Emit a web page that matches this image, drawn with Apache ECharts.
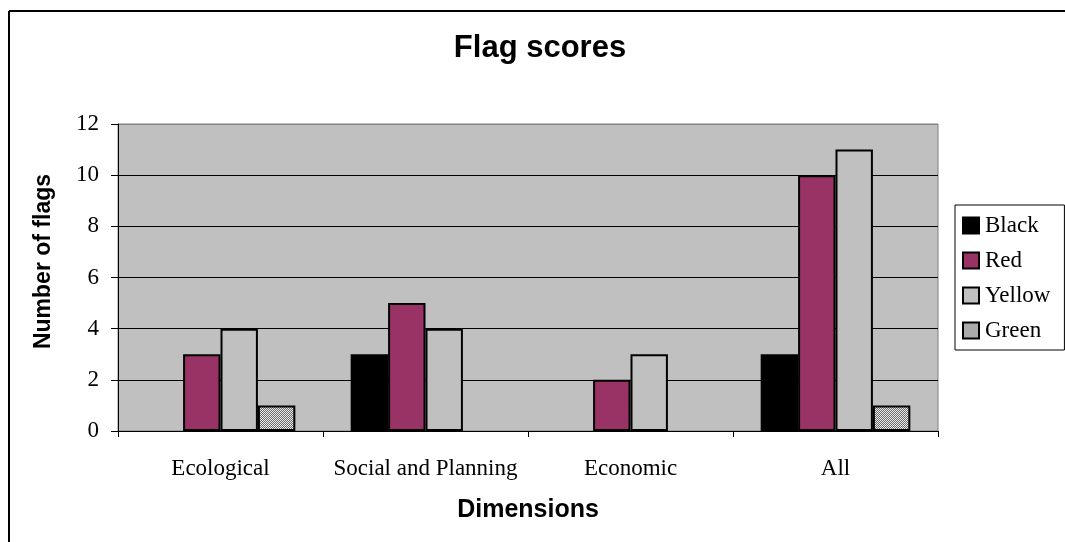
<!DOCTYPE html>
<html>
<head>
<meta charset="utf-8">
<script src="https://cdn.jsdelivr.net/npm/echarts@6/dist/echarts.min.js"></script>
<style>html,body{margin:0;padding:0;background:#fff}#c{width:1065px;height:542px}</style>
</head>
<body>
<div id="c"></div>
<script>
var categories = ['Ecological', 'Social and Planning', 'Economic', 'All'];
var seriesNames = ['Black', 'Red', 'Yellow', 'Green'];
var blackVals = [0, 3, 0, 3];
var redVals = [3, 5, 2, 10];
var yellowVals = [4, 4, 3, 11];
var greenVals = [1, 0, 0, 1];
var yTicks = [0, 2, 4, 6, 8, 10, 12];

// hatch pattern for green
var pc = document.createElement('canvas');
pc.width = 4; pc.height = 4;
var g = pc.getContext('2d');
g.fillStyle = '#ececec'; g.fillRect(0, 0, 4, 4);
g.fillStyle = '#6a6a6a';
for (var i = 0; i < 4; i++) { g.fillRect((3 - i), i, 1, 1); g.fillRect((3 - i + 2) % 4, i, 1, 1); }
var hatch = { image: pc, repeat: 'repeat' };

var colors = ['#000000', '#993366', '#c0c0c0', hatch];
var vals = [blackVals, redVals, yellowVals, greenVals];

var chart = echarts.init(document.getElementById('c'), null, { renderer: 'canvas' });
var serif = 'Liberation Serif, Times New Roman, serif';
var sans = 'Liberation Sans, Arial, sans-serif';

chart.setOption({
  animation: false,
  backgroundColor: '#fff',
  title: {
    text: 'Flag scores', left: 535, top: 28, textAlign: 'center',
    textStyle: { fontFamily: sans, fontWeight: 'bold', fontSize: 31, color: '#000' }
  },
  legend: {
    orient: 'vertical', left: 955, top: 205,
    borderColor: '#000', borderWidth: 1, padding: [9, 14, 8, 7],
    itemWidth: 16, itemHeight: 16, itemGap: 12,
    icon: 'rect',
    data: seriesNames,
    textStyle: { fontFamily: serif, fontSize: 23, color: '#000', padding: [0, 0, 0, 1] }
  },
  grid: {
    left: 118, right: 127, top: 124, bottom: 111,
    show: true, backgroundColor: '#c0c0c0', borderColor: '#808080', borderWidth: 1
  },
  xAxis: {
    type: 'category', data: categories,
    axisLine: { lineStyle: { color: '#000', width: 1 } },
    axisTick: { show: true, length: 6, inside: false, alignWithLabel: false, lineStyle: { color: '#000' } },
    axisLabel: { fontFamily: serif, fontSize: 23, color: '#000', margin: 26, interval: 0 },
    name: 'Dimensions', nameLocation: 'middle', nameGap: 67,
    nameTextStyle: { fontFamily: sans, fontWeight: 'bold', fontSize: 25, color: '#000' }
  },
  yAxis: {
    type: 'value', min: 0, max: 12, interval: 2,
    axisLine: { show: true, lineStyle: { color: '#000', width: 1 } },
    axisTick: { show: true, length: 7, lineStyle: { color: '#000' } },
    axisLabel: { fontFamily: serif, fontSize: 23, color: '#000', margin: 19,
      formatter: function (v) { return yTicks.indexOf(v) >= 0 ? String(v) : ''; } },
    splitLine: { show: true, lineStyle: { color: ['#000', '#000', '#000', '#000', '#000', '#000', '#808080'], width: 1 } },
    name: 'Number of flags', nameLocation: 'middle', nameGap: 63, nameRotate: 90,
    nameTextStyle: { fontFamily: sans, fontWeight: 'bold', fontSize: 23, color: '#000', padding: [0, 0, 0, 32] }
  },
  series: seriesNames.map(function (n, k) {
    return {
      name: n, type: 'bar',
      data: vals[k].map(function (v) { return v === 0 ? null : v; }),
      barGap: '0%', barCategoryGap: '27%',
      itemStyle: { color: colors[k], borderColor: '#000', borderWidth: 2 }
    };
  }),
  graphic: [
    { type: 'line', silent: true, shape: { x1: 9, y1: 11, x2: 9, y2: 542 }, style: { stroke: '#000', lineWidth: 2 } },
    { type: 'line', silent: true, shape: { x1: 9, y1: 11, x2: 1065, y2: 11 }, style: { stroke: '#000', lineWidth: 2 } }
  ]
});
</script>
</body>
</html>
